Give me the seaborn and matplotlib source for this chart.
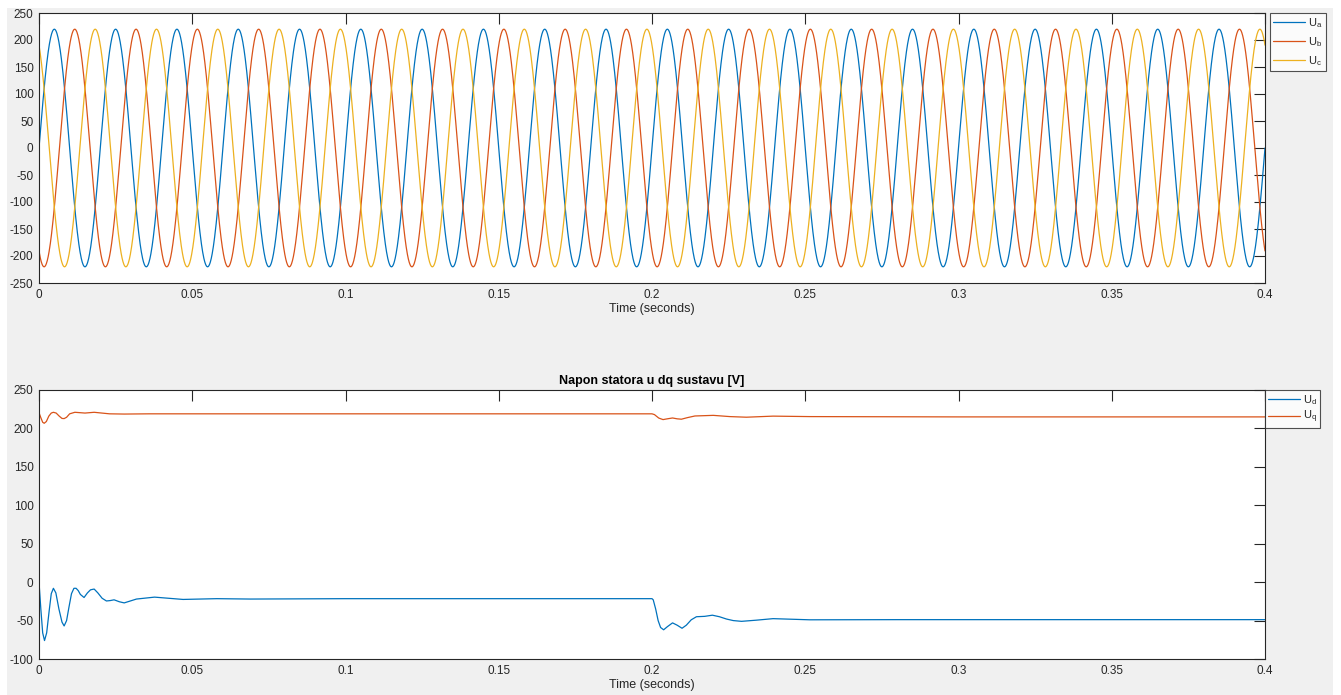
import numpy as np
import pandas as pd
import matplotlib
matplotlib.use("Agg")
import matplotlib.pyplot as plt
from matplotlib.patches import Rectangle
from matplotlib.ticker import FuncFormatter
import seaborn as sns

#%% Podaci (ocitano sa slike)

# trofazni napon: amplituda, frekvencija i faze
U_AMPL = 220.0
F_HZ = 50.0
T_END = 0.4
phase_names = ["$\\mathregular{U_a}$", "$\\mathregular{U_b}$", "$\\mathregular{U_c}$"]
phase_deg = [0, -120, 120]

# napon u dq sustavu
ud_t = [0, 0.0006, 0.0012, 0.0018, 0.0025, 0.0033, 0.004, 0.0047, 0.0055, 0.0065,
        0.0075, 0.0082, 0.009, 0.0098, 0.0106, 0.0114, 0.0121, 0.0128, 0.0135, 0.0147,
        0.0158, 0.0168, 0.018, 0.0192, 0.0206, 0.022, 0.0232, 0.0245, 0.0262, 0.0278,
        0.0298, 0.0318, 0.0377, 0.047, 0.058, 0.069, 0.1, 0.15, 0.2, 0.2004,
        0.2012, 0.202, 0.2028, 0.2038, 0.205, 0.2067, 0.2082, 0.2098, 0.2112, 0.2128,
        0.2145, 0.2172, 0.2197, 0.222, 0.2243, 0.2265, 0.2292, 0.234, 0.2395, 0.2515,
        0.28, 0.32, 0.36, 0.4]
ud_v = [0, -35, -66, -76, -66, -38, -15, -8, -14, -35,
        -52, -57, -50, -32, -15, -8, -8, -11, -16, -20,
        -14, -10, -9, -14, -21, -24.5, -24, -23, -25.5, -27,
        -24.5, -22, -19.5, -22.5, -21.5, -22, -21.5, -21.5, -21.5, -23,
        -35, -50, -59, -62, -58, -53, -56, -60, -56, -49,
        -45, -44.5, -43, -45, -48, -50, -51, -49.5, -47.5, -49,
        -48.8, -48.8, -48.8, -48.8]

uq_t = [0, 0.0006, 0.0012, 0.0017, 0.0024, 0.0032, 0.004, 0.0047, 0.0056, 0.0066,
        0.0075, 0.0082, 0.009, 0.01, 0.0117, 0.015, 0.018, 0.023, 0.0278, 0.036,
        0.1, 0.2, 0.2008, 0.2022, 0.2036, 0.205, 0.2067, 0.2082, 0.2096, 0.2115,
        0.214, 0.22, 0.2254, 0.2308, 0.2395, 0.2515, 0.3, 0.4]
uq_v = [220.5, 214, 208, 206.7, 209, 216, 220, 221, 220, 216,
        213, 212.8, 214.5, 219, 221, 220, 221, 219, 218.7, 219,
        219, 219, 218, 213.5, 211.5, 212.5, 213.6, 212.5, 212, 214,
        216.2, 217, 215.4, 214.6, 216, 215.4, 215, 215]

#%% Tablice za seaborn

t = np.linspace(0, T_END, 4001)
abc_rows = []
for name, ph in zip(phase_names, phase_deg):
    abc_rows.append(pd.DataFrame({
        "t": t,
        "u": U_AMPL * np.sin(2 * np.pi * F_HZ * t + np.deg2rad(ph)),
        "faza": name,
    }))
df_abc = pd.concat(abc_rows, ignore_index=True)

df_dq = pd.concat([
    pd.DataFrame({"t": ud_t, "u": ud_v, "komp": "$\\mathregular{U_d}$"}),
    pd.DataFrame({"t": uq_t, "u": uq_v, "komp": "$\\mathregular{U_q}$"}),
], ignore_index=True)

#%% Crtanje

sns.set_style("white")
plt.rcParams["font.family"] = ["Liberation Sans", "DejaVu Sans"]
plt.rcParams["axes.unicode_minus"] = False   # MATLAB koristi obicnu crticu

matlab_boje = ["#0072BD", "#D95319", "#EDB120"]
siva = "#262626"

fig = plt.figure(figsize=(13.41, 6.95), dpi=100)
fig.patch.set_facecolor("white")
# sivo MATLAB platno
fig.patches.append(Rectangle((7 / 1341, 0), (1333 - 7) / 1341, 1 - 8 / 695,
                             transform=fig.transFigure, facecolor="#f0f0f0",
                             edgecolor="none", zorder=-10))

ax1 = fig.add_axes([39 / 1341, 1 - 283 / 695, (1265 - 39) / 1341, (283 - 13) / 695])
ax2 = fig.add_axes([39 / 1341, 1 - 659 / 695, (1265 - 39) / 1341, (659 - 390) / 695])

sns.lineplot(data=df_abc, x="t", y="u", hue="faza", palette=matlab_boje,
             estimator=None, sort=False, linewidth=0.9, ax=ax1)
sns.lineplot(data=df_dq, x="t", y="u", hue="komp", palette=matlab_boje[:2],
             estimator=None, sort=False, linewidth=0.9, ax=ax2)

ax1.set_ylim(-250, 250)
ax1.set_yticks(np.arange(-250, 251, 50))
ax2.set_ylim(-100, 250)
ax2.set_yticks(np.arange(-100, 251, 50))

for ax in (ax1, ax2):
    ax.set_xlim(0, T_END)
    ax.set_xticks(np.arange(0, 0.401, 0.05))
    ax.xaxis.set_major_formatter(FuncFormatter(lambda v, p: f"{v:g}"))
    ax.set_xlabel("Time (seconds)", fontsize=9, color=siva, labelpad=2)
    ax.set_ylabel("")
    ax.tick_params(direction="in", length=8, width=0.8, colors=siva, labelsize=8.5,
                   top=True, right=True, pad=4)
    for sp in ax.spines.values():
        sp.set_color(siva)
        sp.set_linewidth(0.8)

ax2.set_title("Napon statora u dq sustavu [V]", fontsize=9, fontweight="bold",
              color="black", pad=4)

leg1 = ax1.legend(loc="upper left", bbox_to_anchor=(1.004, 1.0), borderaxespad=0,
                  fontsize=8, frameon=True, fancybox=False, handlelength=2.9,
                  handletextpad=0.25, labelspacing=0.45, borderpad=0.3)
leg2 = ax2.legend(loc="upper left", bbox_to_anchor=(1.0, 1.0), borderaxespad=0,
                  fontsize=8, frameon=True, fancybox=False, handlelength=2.9,
                  handletextpad=0.25, labelspacing=0.2, borderpad=0.25)
for leg in (leg1, leg2):
    leg.get_frame().set_edgecolor(siva)
    leg.get_frame().set_linewidth(0.8)
    for ln in leg.get_lines():
        ln.set_linewidth(0.9)
    for txt in leg.get_texts():
        txt.set_color(siva)

fig.savefig("out.png", dpi=100, facecolor=fig.get_facecolor())
